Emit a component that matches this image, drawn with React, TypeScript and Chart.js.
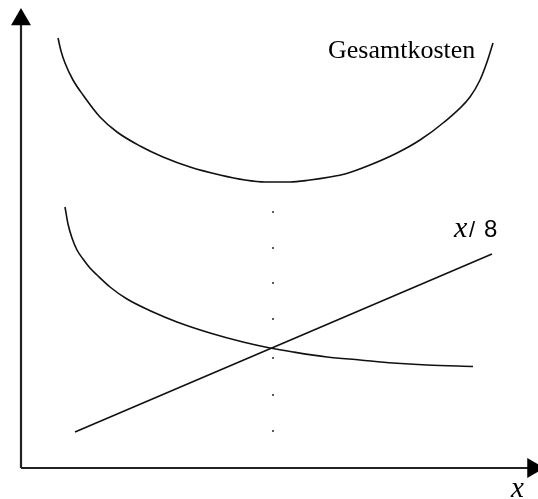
import React, { useEffect, useRef } from "react";
import { Chart, registerables } from "chart.js";

Chart.register(...registerables);

// Coordinate system: origin at the axes corner, 1 unit = 10 px
const totalCostX = [3.7, 4.0, 4.4, 5.2, 6.2, 7.9, 9.6, 11.9, 14.2, 16.9, 19.9, 22.4, 24.4, 26.9, 28.9, 30.9, 32.4, 34.9, 37.6, 39.9, 42.2, 44.9, 45.9, 46.6, 47.2];
const totalCostY = [43.0, 41.7, 40.5, 38.8, 37.3, 35.1, 33.6, 32.2, 31.1, 30.1, 29.3, 28.8, 28.6, 28.6, 28.8, 29.1, 29.4, 30.3, 31.5, 32.8, 34.5, 37.1, 38.8, 40.6, 42.5];

const hyperX = [4.4, 4.7, 5.1, 5.6, 6.2, 6.9, 7.6, 8.9, 10.6, 13.2, 15.6, 18.9, 22.2, 24.9, 27.2, 30.6, 33.9, 37.2, 40.6, 45.2];
const hyperY = [26.1, 24.4, 23.0, 21.8, 20.9, 20.0, 19.3, 18.1, 16.9, 15.6, 14.6, 13.5, 12.6, 12.0, 11.6, 11.1, 10.8, 10.5, 10.3, 10.15];

const lineX = [5.4, 47.1];
const lineY = [3.6, 21.4];

const dotX = 25.2;
const dotY = [25.6, 22.0, 18.5, 14.9, 11.0, 7.3, 3.7];

const yAxisTop = 44.85;
const xAxisRight = 51.2;

const labelTexts = ["Gesamtkosten", "x", "/", "8", "x"];
const labelX = [30.7, 43.3, 44.8, 46.3, 49.0];
const labelY = [41.0, 23.1, 23.1, 23.1, -2.9];
const labelFonts = [
  "26px 'Liberation Serif'",
  "italic 30px 'Liberation Serif'",
  "22px 'Liberation Sans'",
  "24px 'Liberation Sans'",
  "italic 29px 'Liberation Serif'",
];

const zip = (xs: number[], ys: number[]) => xs.map((x, i) => ({ x, y: ys[i] }));

export default function App() {
  const ref = useRef<HTMLCanvasElement | null>(null);
  useEffect(() => {
    if (!ref.current) return;
    const labelPlugin = {
      id: "labels",
      afterDatasetsDraw(chart: any) {
        const ctx = chart.ctx;
        const xs = chart.scales.x;
        const ys = chart.scales.y;
        ctx.save();
        ctx.fillStyle = "#000";
        ctx.textAlign = "left";
        ctx.textBaseline = "alphabetic";
        labelTexts.forEach((t, i) => {
          ctx.font = labelFonts[i];
          ctx.fillText(t, xs.getPixelForValue(labelX[i]), ys.getPixelForValue(labelY[i]));
        });
        ctx.restore();
      },
    };
    const chart = new Chart(ref.current, {
      type: "line",
      data: {
        datasets: [
          {
            data: zip(totalCostX, totalCostY),
            borderColor: "#111",
            borderWidth: 1.6,
            pointRadius: 0,
            cubicInterpolationMode: "monotone",
            fill: false,
          },
          {
            data: zip(hyperX, hyperY),
            borderColor: "#111",
            borderWidth: 1.6,
            pointRadius: 0,
            cubicInterpolationMode: "monotone",
            fill: false,
          },
          {
            data: zip(lineX, lineY),
            borderColor: "#111",
            borderWidth: 1.6,
            pointRadius: 0,
            fill: false,
          },
          {
            data: dotY.map((y) => ({ x: dotX, y })),
            showLine: false,
            pointRadius: 1.2,
            pointStyle: "rect",
            pointBackgroundColor: "#000",
            pointBorderWidth: 0,
          },
          {
            data: [{ x: 0, y: 0 }, { x: 0, y: yAxisTop }],
            borderColor: "#222",
            borderWidth: 2.2,
            pointRadius: [0, 11.5],
            pointStyle: "triangle",
            pointBackgroundColor: "#000",
            pointBorderColor: "#000",
            pointBorderWidth: 0,
            clip: false,
          } as any,
          {
            data: [{ x: 0, y: 0 }, { x: xAxisRight, y: 0 }],
            borderColor: "#222",
            borderWidth: 2.2,
            pointRadius: [0, 11.5],
            pointStyle: "triangle",
            pointRotation: [0, 90],
            pointBackgroundColor: "#000",
            pointBorderColor: "#000",
            pointBorderWidth: 0,
            clip: false,
          } as any,
        ],
      },
      options: {
        responsive: false,
        animation: false,
        layout: { padding: 0, autoPadding: false },
        plugins: { legend: { display: false }, tooltip: { enabled: false } },
        scales: {
          x: { type: "linear", min: -2.1, max: 51.7, display: false },
          y: { type: "linear", min: -3.1, max: 46.8, display: false },
        },
      },
      plugins: [labelPlugin],
    });
    return () => chart.destroy();
  }, []);
  return (
    <div style={{ position: "absolute", left: 0, top: 0, width: 538, height: 499, background: "#fff" }}>
      <canvas ref={ref} width={538} height={499} />
    </div>
  );
}
